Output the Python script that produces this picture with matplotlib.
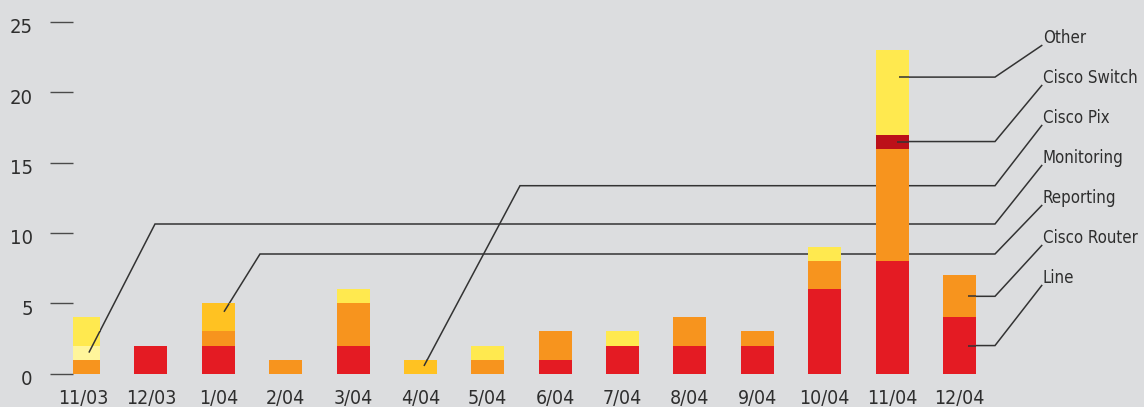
import os
import numpy as np
import matplotlib
matplotlib.use("Agg")
import matplotlib.pyplot as plt
from matplotlib import font_manager
from matplotlib.font_manager import FontProperties
from matplotlib.transforms import ScaledTranslation

# ---- data -------------------------------------------------------------
months = ["11/03", "12/03", "1/04", "2/04", "3/04", "4/04", "5/04",
          "6/04", "7/04", "8/04", "9/04", "10/04", "11/04", "12/04"]

line_vals         = [0, 2, 2, 0, 2, 0, 0, 1, 2, 2, 2, 6, 8, 4]
cisco_router_vals = [1, 0, 1, 1, 3, 0, 1, 2, 0, 2, 1, 2, 8, 3]
reporting_vals    = [0, 0, 2, 0, 0, 0, 0, 0, 0, 0, 0, 0, 0, 0]
monitoring_vals   = [1, 0, 0, 0, 0, 0, 0, 0, 0, 0, 0, 0, 0, 0]
cisco_pix_vals    = [0, 0, 0, 0, 0, 1, 0, 0, 0, 0, 0, 0, 0, 0]
cisco_switch_vals = [0, 0, 0, 0, 0, 0, 0, 0, 0, 0, 0, 0, 1, 0]
other_vals        = [2, 0, 0, 0, 1, 0, 1, 0, 1, 0, 0, 1, 6, 0]

y_ticks = [0, 5, 10, 15, 20, 25]

# stacking order, bottom to top
stack = [
    ("Line",         line_vals,         "#E41B23"),
    ("Cisco Router", cisco_router_vals, "#F7941E"),
    ("Reporting",    reporting_vals,    "#FFC222"),
    ("Monitoring",   monitoring_vals,   "#FFF59B"),
    ("Cisco Pix",    cisco_pix_vals,    "#FFC222"),
    ("Cisco Switch", cisco_switch_vals, "#BC1019"),
    ("Other",        other_vals,        "#FFE94F"),
]

# ---- fonts: prefer a narrow sans face ---------------------------------
def find_narrow_font():
    wanted = ["liberationsansnarrow-regular", "liberationsansnarrow",
              "dejavusanscondensed.", "robotocondensed-light",
              "robotocondensed-regular", "opensans-condensedlight",
              "opensans-condensed", "notosans-condensedlight",
              "notosans-condensed."]
    paths = [f.fname for f in font_manager.fontManager.ttflist]
    try:
        paths += font_manager.findSystemFonts()
    except Exception:
        pass
    low = {os.path.basename(p).lower().replace("_", "").replace(" ", ""): p
           for p in paths}
    for w in wanted:
        for base, p in low.items():
            if base.startswith(w):
                return p
    return None

narrow_path = find_narrow_font()
plt.rcParams["font.family"] = ["Liberation Sans", "DejaVu Sans"]

def fp(size):
    if narrow_path:
        return FontProperties(fname=narrow_path, size=size)
    return FontProperties(family=["Liberation Sans", "DejaVu Sans"], size=size)

BG = "#DCDDDF"
INK = "#2E2E2E"

W, H = 1144, 407
fig = plt.figure(figsize=(W / 100, H / 100), dpi=100, facecolor=BG)

px_per_unit_y = 14.07
zero_px = 373.7
x0_px, step_px = 83.5, 67.38

ax = fig.add_axes([73 / W, (H - zero_px) / H, 1 - 73 / W, zero_px / H])
ax.set_facecolor(BG)
ax.set_ylim(0, zero_px / px_per_unit_y)
ax.set_xlim((73 - x0_px) / step_px, (W - x0_px) / step_px)
for s in ax.spines.values():
    s.set_visible(False)

x = np.arange(len(months))
bar_w = 0.49
bottom = np.zeros(len(months))
seg_bottom = {}
for name, vals, color in stack:
    vals = np.asarray(vals, dtype=float)
    ax.bar(x, vals, bar_w, bottom=bottom, color=color, linewidth=0, zorder=3)
    seg_bottom[name] = bottom.copy()
    bottom = bottom + vals
totals = bottom

# ---- axis ticks ------------------------------------------------------
ax.set_yticks(y_ticks)
ax.set_yticklabels([str(t) for t in y_ticks])
ax.tick_params(axis="y", length=16.5, width=1.0, color="#4A4A4A",
               pad=12.5, labelcolor=INK)
shift = ScaledTranslation(0, -0.04, fig.dpi_scale_trans)
for lab in ax.get_yticklabels():
    lab.set_fontproperties(fp(14.5 if narrow_path else 14))
    lab.set_transform(lab.get_transform() + shift)

ax.set_xticks(x)
ax.set_xticklabels(months)
ax.tick_params(axis="x", length=0, pad=11, labelcolor=INK)
for lab in ax.get_xticklabels():
    lab.set_fontproperties(fp(14 if narrow_path else 13))

# ---- leader labels -----------------------------------------------------
def px_x(p):
    return (p - x0_px) / step_px

def px_y(p):
    return (zero_px - p) / px_per_unit_y

label_x = px_x(1043)
start_x = px_x(1041.7)
elbow_x = px_x(995)

# (series, label centre px, bar index, horizontal offset in bar,
#  fraction up the segment, optional bend x px, level px)
leaders = [
    ("Other",        38,  12, 0.096, 0.68, None, None),
    ("Cisco Switch", 78,  12, 0.080, 0.50, None, None),
    ("Cisco Pix",    118, 5,  0.053, 0.55, 520,  185.7),
    ("Monitoring",   158, 0,  0.080, 0.50, 155,  224.0),
    ("Reporting",    198, 2,  0.085, 0.70, 260,  254.0),
    ("Cisco Router", 238, 13, 0.126, 0.50, None, None),
    ("Line",         278, 13, 0.126, 0.50, None, None),
]

values = {name: np.asarray(v, dtype=float) for name, v, _ in stack}

def inside_bar(px, py, i):
    return (i - bar_w / 2 <= px <= i + bar_w / 2) and (0 <= py <= totals[i])

label_size = 15 if narrow_path else 12.5
texts = []
for name, lab_px, idx, dx, frac, bend_px, level_px in leaders:
    t = ax.text(label_x, px_y(lab_px), name, ha="left", va="center",
                fontproperties=fp(label_size), color=INK, zorder=6)
    texts.append(t)
    b = seg_bottom[name][idx]
    h = values[name][idx]
    ax_pt = (idx + dx, b + frac * h)
    if bend_px is None:
        level = ax_pt[1]
        pts = [(start_x, px_y(lab_px + 7.5)), (elbow_x, level), ax_pt]
    else:
        level = px_y(level_px)
        pts = [(start_x, px_y(lab_px + 7.5)), (elbow_x, level),
               (px_x(bend_px), level), ax_pt]
    xs, ys = zip(*pts)
    ax.plot(xs, ys, color="#333333", lw=1.1, zorder=2,
            solid_joinstyle="miter", clip_on=False)
    # the part of the last segment lying over the bar stays visible
    p = np.array(pts[-2])
    q = np.array(pts[-1])
    first = None
    for tt in np.linspace(0, 1, 2001):
        c = p + tt * (q - p)
        if inside_bar(c[0], c[1], idx):
            first = tt
            break
    if first is not None:
        c = p + first * (q - p)
        ax.plot([c[0], q[0]], [c[1], q[1]], color="#333333", lw=1.1,
                zorder=4, solid_capstyle="butt")

# keep every label inside the figure
renderer = fig.canvas.get_renderer()
widest = max(t.get_window_extent(renderer).x1 for t in texts)
if widest > W - 6:
    scale = (W - 6 - 1043) / (widest - 1043)
    for t in texts:
        t.set_fontsize(t.get_fontsize() * scale)

fig.savefig("out.png", dpi=100, facecolor=BG)
